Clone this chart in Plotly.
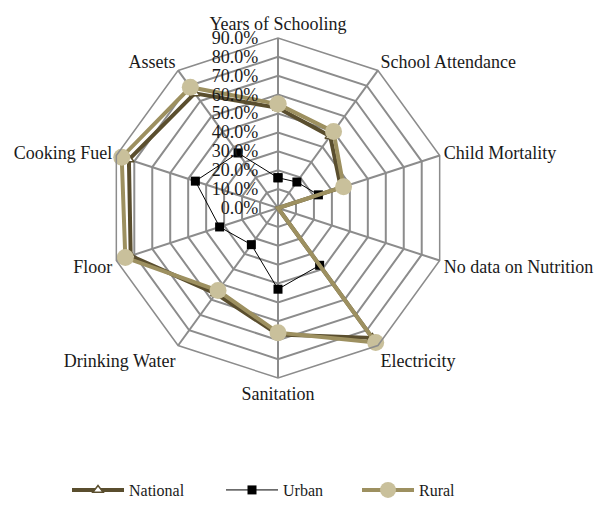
import plotly.graph_objects as go

categories = ["Years of Schooling", "School Attendance", "Child Mortality",
              "No data on Nutrition", "Electricity", "Sanitation",
              "Drinking Water", "Floor", "Cooking Fuel", "Assets"]
national = [0.53, 0.47, 0.35, 0.0, 0.85, 0.67, 0.56, 0.82, 0.83, 0.75]
urban = [0.16, 0.17, 0.225, 0.0, 0.375, 0.43, 0.24, 0.325, 0.46, 0.36]
rural = [0.55, 0.50, 0.365, 0.0, 0.88, 0.66, 0.54, 0.85, 0.87, 0.79]
tick_vals = [0.0, 0.1, 0.2, 0.3, 0.4, 0.5, 0.6, 0.7, 0.8, 0.9]

FONT = "Liberation Serif"

def closed(v):
    return v + v[:1]

cats = closed(categories)

fig = go.Figure()
fig.add_trace(go.Scatterpolar(
    r=closed(national), theta=cats, name="National", mode="lines+markers",
    line=dict(color="#5A4E2E", width=4),
    marker=dict(symbol="triangle-up", size=9, color="white",
                line=dict(color="#5A4E2E", width=1.5)),
    legend="legend",
))
fig.add_trace(go.Scatterpolar(
    r=closed(urban), theta=cats, name="Urban", mode="lines+markers",
    line=dict(color="black", width=1),
    marker=dict(symbol="square", size=9, color="black"),
    legend="legend2",
))
fig.add_trace(go.Scatterpolar(
    r=closed(rural), theta=cats, name="Rural", mode="lines+markers",
    line=dict(color="#9D9060", width=4),
    marker=dict(symbol="circle", size=17, color="#C9C09B",
                line=dict(color="#C9C09B", width=0)),
    legend="legend3",
))

leg_common = dict(orientation="h", y=0.0888, yanchor="middle", xanchor="left",
                  font=dict(family=FONT, size=16, color="#1a1a1a"),
                  bgcolor="rgba(0,0,0,0)", itemwidth=52, visible=True)

fig.update_layout(
    width=606, height=529,
    showlegend=True,
    margin=dict(l=0, r=0, t=0, b=0),
    paper_bgcolor="white", plot_bgcolor="white",
    font=dict(family=FONT, size=18, color="#1a1a1a"),
    polar=dict(
        domain=dict(x=[0.1650, 0.7261], y=[0.3006, 0.9433]),
        gridshape="linear",
        bgcolor="white",
        angularaxis=dict(
            rotation=90, direction="clockwise",
            gridcolor="#8C8C8C", gridwidth=1.5,
            linecolor="#8C8C8C", linewidth=1.5,
            showline=True, ticks="",
            tickfont=dict(family=FONT, size=18, color="#1a1a1a"),
        ),
        radialaxis=dict(
            range=[0, 0.9], tickvals=tick_vals, tickformat=".1%",
            angle=90, tickangle=90, side="counterclockwise",
            gridcolor="#8C8C8C", gridwidth=1.5,
            showline=False, ticks="outside", ticklen=13,
            tickcolor="rgba(0,0,0,0)",
            tickfont=dict(family=FONT, size=18, color="#1a1a1a"),
        ),
    ),
    legend=dict(x=59 / 606, **leg_common),
    legend2=dict(x=213 / 606, **leg_common),
    legend3=dict(x=349 / 606, **leg_common),
)

fig.write_html("out.html")
